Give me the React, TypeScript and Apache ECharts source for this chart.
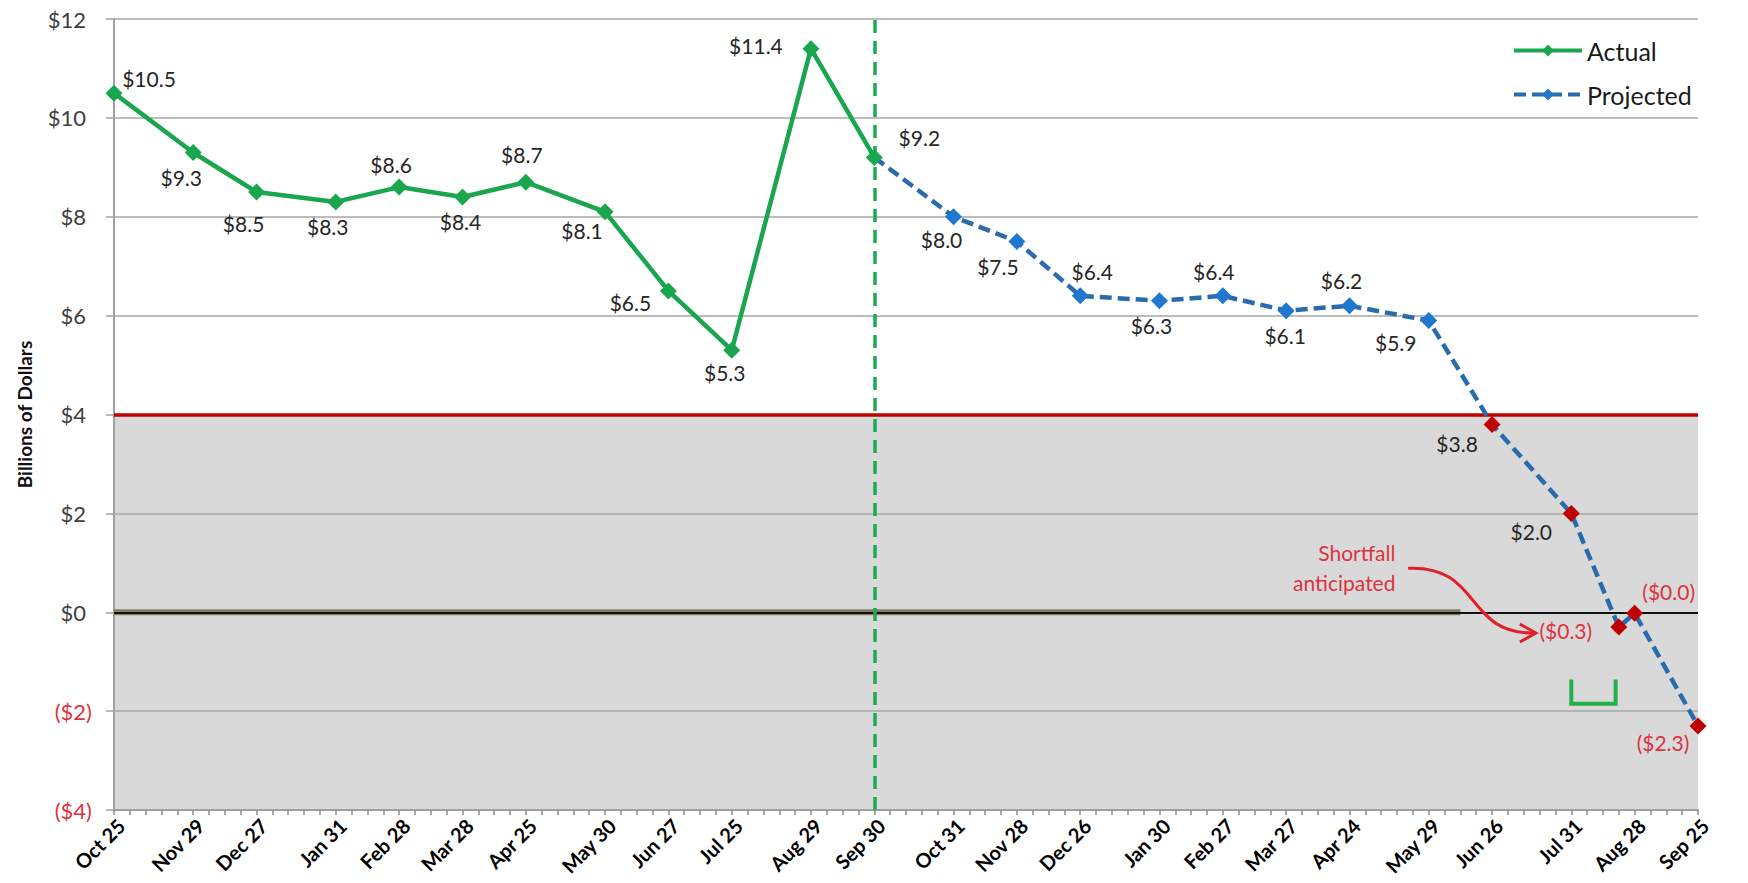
import React, { useEffect, useRef } from 'react';
import * as echarts from 'echarts';

// ---- data ----
const tickWeeks = [0, 5, 9, 14, 18, 22, 26, 31, 35, 39, 44, 48, 53, 57, 61, 66, 70, 74, 78, 83, 87, 92, 96, 100];
const tickLabels = ['Oct 25', 'Nov 29', 'Dec 27', 'Jan 31', 'Feb 28', 'Mar 28', 'Apr 25', 'May 30', 'Jun 27', 'Jul 25', 'Aug 29', 'Sep 30', 'Oct 31', 'Nov 28', 'Dec 26', 'Jan 30', 'Feb 27', 'Mar 27', 'Apr 24', 'May 29', 'Jun 26', 'Jul 31', 'Aug 28', 'Sep 25'];
const actualWeeks = [0, 5, 9, 14, 18, 22, 26, 31, 35, 39, 44, 48];
const actualValues = [10.5, 9.3, 8.5, 8.3, 8.6, 8.4, 8.7, 8.1, 6.5, 5.3, 11.4, 9.2];
const projectedWeeks = [48, 53, 57, 61, 66, 70, 74, 78, 83, 87, 92, 95, 96, 100];
const projectedValues = [9.2, 8.0, 7.5, 6.4, 6.3, 6.4, 6.1, 6.2, 5.9, 3.8, 2.0, -0.3, -0.02, -2.3];
const yMin = -4;
const yMax = 12;
const yStep = 2;
const minimumBalance = 4;
const fiscalYearEndWeek = 48;
const belowMinimumFrom = 9; // index in projected series where markers turn red
const zeroTraceWeeks = [0, 85];
const shortfallBracket = [[92, -1.36], [92, -1.85], [94.8, -1.85], [94.8, -1.36]];
const shortfallText = ['Shortfall', 'anticipated'];

// ---- layout (label offsets in px, relative to the point) ----
const actualLabelOffsets = [[35, -15], [-12, 25], [-13, 31], [-8, 25], [-8, -23], [-2, 25], [-4, -28], [-23, 19], [-38, 12], [-7, 22], [-55, -3], [45, -20]];
const projectedLabelOffsets: (number[] | null)[] = [null, [-12, 23], [-19, 25], [12, -24], [-8, 25], [-9, -24], [-1, 25], [-8, -25], [-33, 22], [-35, 19], [-40, 18], [-53, 3], [34, -22], [-35, 17]];

const FONT = 'Lato, "Noto Sans", sans-serif';
const GREEN = '#1AA64F';
const BLUE_LINE = '#2A6BAE';
const BLUE_MARK = '#1F77CF';
const RED_MARK = '#C00000';
const NEG_TEXT = '#DD3340';
const TEXT = '#262626';
const MARK = 17;

const fmt = (v: number) => (v < 0 ? `($${Math.abs(v).toFixed(1)})` : `$${v.toFixed(1)}`);

const labelMap: Record<number, string> = {};
tickWeeks.forEach((w, i) => (labelMap[w] = tickLabels[i]));

function pointLabel(v: number, off: number[] | null) {
  if (!off) return { show: false };
  return {
    show: true,
    position: 'inside',
    offset: off,
    align: 'center',
    verticalAlign: 'middle',
    formatter: fmt(v),
    color: v < 0 ? NEG_TEXT : TEXT,
    fontFamily: FONT,
    fontSize: 21,
  };
}

const bands: string[] = [];
for (let v = yMin; v < yMax; v += yStep) bands.push(v < minimumBalance ? '#D9D9D9' : '#FFFFFF');

function buildOption() {
  return {
    animation: false,
    backgroundColor: '#FFFFFF',
    grid: { left: 114, right: 50, top: 19, bottom: 73, containLabel: false },
    legend: {
      data: ['Actual', 'Projected'],
      orient: 'vertical',
      left: 1507,
      top: 33,
      itemWidth: 68,
      itemHeight: 15,
      itemGap: 19,
      lineStyle: { width: 4 },
      textStyle: { fontFamily: FONT, fontSize: 25, color: '#1A1A1A' },
    },
    xAxis: {
      type: 'value',
      min: 0,
      max: 100,
      interval: 1,
      axisLine: { show: true, onZero: false, lineStyle: { color: '#A0A0A0', width: 2 } },
      axisTick: { show: true, length: 5, lineStyle: { color: '#8C8C8C', width: 1.5 } },
      splitLine: { show: false },
      axisLabel: {
        rotate: 45,
        margin: 5,
        verticalAlign: 'top',
        fontFamily: FONT,
        fontWeight: 'bold',
        fontSize: 20,
        color: '#000000',
        showMinLabel: true,
        showMaxLabel: true,
        formatter: (v: number) => labelMap[v] ?? '',
      },
    },
    yAxis: {
      type: 'value',
      min: yMin,
      max: yMax,
      interval: yStep,
      name: 'Billions of Dollars',
      nameLocation: 'middle',
      nameRotate: 90,
      nameGap: 80,
      nameTextStyle: { fontFamily: FONT, fontWeight: 'bold', fontSize: 19, color: '#111111' },
      axisLine: { show: true, lineStyle: { color: '#A0A0A0', width: 2 } },
      axisTick: { show: true, length: 8, lineStyle: { color: '#A0A0A0', width: 1.5 } },
      axisLabel: {
        margin: 22,
        formatter: (v: number) => (v < 0 ? `{n|($${-v})}` : `{p|$${v}}`),
        rich: {
          p: { color: '#404040', fontFamily: FONT, fontSize: 22, padding: [0, 6, 0, 0] },
          n: { color: NEG_TEXT, fontFamily: FONT, fontSize: 22 },
        },
      },
      splitLine: { show: true, lineStyle: { color: '#A6A6A6', width: 1.5 } },
      splitArea: { show: true, areaStyle: { color: bands } },
    },
    series: [
      {
        name: 'guides',
        type: 'line',
        data: [],
        z: 2,
        silent: true,
        markLine: {
          silent: true,
          symbol: 'none',
          label: { show: false },
          data: [
            { yAxis: minimumBalance, lineStyle: { color: '#C00000', width: 3.5, type: 'solid' } },
            { yAxis: 0, lineStyle: { color: '#111111', width: 2, type: 'solid' } },
          ],
        },
      },
      {
        name: 'zeroTrace',
        type: 'line',
        data: zeroTraceWeeks.map((w) => [w, 0]),
        symbol: 'none',
        silent: true,
        z: 3,
        lineStyle: { color: '#857A62', width: 6 },
      },
      {
        name: 'fyEnd',
        type: 'line',
        data: [],
        z: 4,
        silent: true,
        markLine: {
          silent: true,
          symbol: 'none',
          label: { show: false },
          data: [{ xAxis: fiscalYearEndWeek, lineStyle: { color: '#1DAA55', width: 3.5, type: [13, 8] } }],
        },
      },
      {
        name: 'Projected',
        type: 'line',
        z: 5,
        symbol: 'diamond',
        symbolSize: MARK,
        lineStyle: { color: BLUE_LINE, width: 4.5, type: [12, 6] },
        itemStyle: { color: BLUE_MARK },
        data: projectedWeeks.map((w, i) => ({
          value: [w, projectedValues[i]],
          symbolSize: i === 0 ? 0 : MARK,
          itemStyle: { color: i >= belowMinimumFrom ? RED_MARK : BLUE_MARK },
          label: pointLabel(projectedValues[i], projectedLabelOffsets[i]),
        })),
      },
      {
        name: 'Actual',
        type: 'line',
        z: 6,
        symbol: 'diamond',
        symbolSize: MARK,
        lineStyle: { color: GREEN, width: 4.5 },
        itemStyle: { color: GREEN },
        data: actualWeeks.map((w, i) => ({
          value: [w, actualValues[i]],
          label: pointLabel(actualValues[i], actualLabelOffsets[i]),
        })),
      },
      {
        name: 'bracket',
        type: 'line',
        z: 6,
        silent: true,
        symbol: 'none',
        lineStyle: { color: '#22B04B', width: 4, join: 'miter' },
        data: shortfallBracket,
      },
    ],
  };
}

function buildGraphic(chart: any) {
  const p = (w: number, v: number) => chart.convertToPixel({ gridIndex: 0 }, [w, v]) as number[];
  const t1 = p(80.9, 1.2);
  const t2 = p(80.9, 0.6);
  const a0 = p(81.7, 0.89);
  const a1 = p(86.4, 0.95);
  const a2 = p(85.2, -0.45);
  const a3 = p(89.7, -0.42);
  const color = '#E0202A';
  return [
    {
      type: 'text',
      x: t1[0],
      y: t1[1],
      z: 10,
      style: { text: shortfallText[0], fill: NEG_TEXT, font: `21px ${FONT}`, align: 'right', verticalAlign: 'middle' },
    },
    {
      type: 'text',
      x: t2[0],
      y: t2[1],
      z: 10,
      style: { text: shortfallText[1], fill: NEG_TEXT, font: `21px ${FONT}`, align: 'right', verticalAlign: 'middle' },
    },
    {
      type: 'bezierCurve',
      z: 10,
      shape: { x1: a0[0], y1: a0[1], cpx1: a1[0], cpy1: a1[1], cpx2: a2[0], cpy2: a2[1], x2: a3[0], y2: a3[1] },
      style: { stroke: color, lineWidth: 3, fill: null },
    },
    {
      type: 'polyline',
      z: 10,
      shape: { points: [[a3[0] - 15, a3[1] - 9], [a3[0] + 1, a3[1]], [a3[0] - 15, a3[1] + 9]] },
      style: { stroke: color, lineWidth: 3, fill: null },
    },
  ];
}

export default function App() {
  const ref = useRef<HTMLDivElement>(null);
  useEffect(() => {
    document.body.style.margin = '0';
    const chart = echarts.init(ref.current as HTMLDivElement, null, { renderer: 'svg' });
    chart.setOption(buildOption() as any);
    chart.setOption({ graphic: buildGraphic(chart) } as any);
    return () => chart.dispose();
  }, []);
  return <div ref={ref} style={{ width: 1748, height: 883 }} />;
}
